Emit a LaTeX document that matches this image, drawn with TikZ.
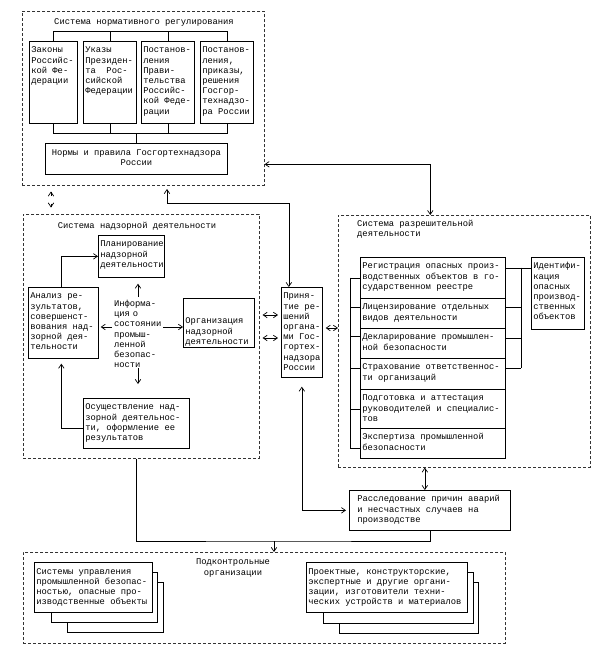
\documentclass[tikz,border=0pt]{standalone}
\usepackage{fontspec}
\setmainfont{Liberation Mono}
\usetikzlibrary{arrows.meta,calc}
\newcommand\bt[4][t]{\parbox[c][#3pt][#1]{\dimexpr#2pt-4pt\relax}{\raggedright\ifx t#1\rule{0pt}{11.5pt}\else\strut\fi#4\strut}}
\begin{document}
\begin{tikzpicture}[x=1pt,y=-1pt,
 every node/.style={font=\fontsize{8.8}{10.2}\selectfont, inner sep=0pt},
 bx/.style={draw, line width=0.7pt, anchor=north west, inner xsep=2pt, inner ysep=0pt, fill=white},
 frm/.style={draw=black!80, dash pattern=on 3pt off 2pt, line width=0.6pt, anchor=north west, inner sep=0pt},
 ln/.style={line width=0.7pt},
 ar/.style={ln, -{Straight Barb[length=4pt,width=5.5pt]}},
 dar/.style={ln, {Straight Barb[length=4pt,width=5.5pt]}-{Straight Barb[length=4pt,width=5.5pt]}},
]
\useasboundingbox (0,0) rectangle (603,654);

% ---------- top frame ----------
\node[frm, minimum width=242pt, minimum height=174pt] (tf) at (22,11) {};
\node (tft) at (144,22) {Система нормативного регулирования};
\node[bx] (z1) at (29,41) {\bt{48}{82}{Законы\\Российс-\\кой Фе-\\дерации}};
\node[bx] (z2) at (83,41) {\bt{53}{82}{Указы\\Президен-\\та~~Рос-\\сийской\\Федерации}};
\node[bx] (z3) at (141,41) {\bt{53}{82}{Постанов-\\ления\\Прави-\\тельства\\Российс-\\кой Феде-\\рации}};
\node[bx] (z4) at (200,41) {\bt{53}{82}{Постанов-\\ления,\\приказы,\\решения\\Госгор-\\технадзо-\\ра России}};
\node[bx] (nrm) at (45,143) {\bt[c]{182}{31}{\centering Нормы и правила Госгортехнадзора\\России}};

\coordinate (bus1) at (0,31);
\coordinate (bus2) at (0,133);
\draw[ln] (z1.north) -- (z1.north |- bus1) -- (z4.north |- bus1) -- (z4.north);
\draw[ln] (z2.north) -- (z2.north |- bus1);
\draw[ln] (z3.north) -- (z3.north |- bus1);
\draw[ln] (z1.south) -- (z1.south |- bus2) -- (z4.south |- bus2) -- (z4.south);
\draw[ln] (z2.south) -- (z2.south |- bus2);
\draw[ln] (z3.south) -- (z3.south |- bus2);
\draw[ln] (nrm.north |- bus2) -- (nrm.north);

% ---------- left frame ----------
\node[frm, minimum width=236pt, minimum height=244pt] (lf) at (23,214) {};
\node (lft) at (137,226) {Система надзорной деятельности};
\node[bx] (plan) at (98,235) {\bt{66}{42}{Планирование\\надзорной\\деятельности}};
\node[bx] (anal) at (28,287) {\bt{70}{71}{Анализ ре-\\зультатов,\\совершенст-\\вования над-\\зорной дея-\\тельности}};
\node[anchor=north, text width=48pt, align=left] (info) at (138,300) {Информа-\\ция о\\состоянии\\промыш-\\ленной\\безопас-\\ности};
\node[bx] (org) at (183,298) {\bt[b]{71}{46}{Организация\\надзорной\\деятельности}};
\node[bx] (osu) at (83,398) {\bt{106}{50}{Осуществление над-\\зорной деятельнос-\\ти, оформление ее\\результатов}};

% ---------- Prinyatie ----------
\node[bx] (prin) at (281,287) {\bt{41}{90}{Приня-\\тие~ре-\\шений\\органа-\\ми~Гос-\\гортех-\\надзора\\России}};

% ---------- right frame ----------
\node[frm, minimum width=252pt, minimum height=252pt] (rf) at (338,215) {};
\node[anchor=north west, align=left] (rft) at (357,220) {Система разрешительной\\деятельности};
\node[bx] (r1) at (360,257) {\bt{145}{41}{Регистрация опасных произ-\\водственных объектов в го-\\сударственном реестре}};
\node[bx] (r2) at (360,298) {\bt{145}{30}{Лицензирование отдельных\\видов деятельности}};
\node[bx] (r3) at (360,328) {\bt{145}{30}{Декларирование промышлен-\\ной безопасности}};
\node[bx] (r4) at (360,358) {\bt{145}{31}{Страхование ответственнос-\\ти организаций}};
\node[bx] (r5) at (360,389) {\bt{145}{39}{Подготовка и аттестация\\руководителей и специалис-\\тов}};
\node[bx] (r6) at (360,428) {\bt{145}{30}{Экспертиза промышленной\\безопасности}};
\node[bx] (iden) at (531,257) {\bt{53}{72}{Идентифи-\\кация\\опасных\\производ-\\ственных\\объектов}};

% ---------- investigation ----------
\node[bx] (ras) at (349,490) {\bt{161}{40}{\leftskip=6pt Расследование причин аварий\\и несчастных случаев на\\производстве}};

% ---------- bottom frame ----------
\node[frm, minimum width=482pt, minimum height=91pt] (bf) at (23,552) {};
\node[align=center] (bft) at (233,568) {Подконтрольные\\организации};
\node[bx, minimum width=96pt, minimum height=50pt] (ls3) at (67,582) {};
\node[bx, minimum width=106pt, minimum height=50pt] (ls2) at (51,572) {};
\node[bx] (ls1) at (34,562) {\bt[c]{118}{50}{Системы управления\\промышленной безопас-\\ностью, опасные про-\\изводственные объекты}};
\node[bx, minimum width=139pt, minimum height=51pt] (rs3) at (339,582) {};
\node[bx, minimum width=150pt, minimum height=51pt] (rs2) at (323,572) {};
\node[bx] (rs1) at (306,562) {\bt[c]{161}{50}{Проектные, конструкторские,\\экспертные и другие органи-\\зации, изготовители техни-\\ческих устройств и материалов}};

% ---------- connectors ----------
\coordinate (av0) at (51,191.5);
\coordinate (av1) at (51,195.5);
\coordinate (av2) at (51,203.5);
\coordinate (av3) at (51,207.5);
\draw[ar] (av1) -- (av0);
\draw[ar] (av2) -- (av3);

\coordinate (ta) at (167,189);
\draw[dar] (ta) |- ([xshift=-13pt,yshift=84pt]prin.north) -- ([xshift=-13pt]prin.north);
\draw[dar] ([yshift=-66pt]tf.east) -| ([xshift=-34pt]rf.north);

\draw[ar, shorten <=3pt, shorten >=6pt] (info.north) -- (info.north |- plan.south);
\draw[ar, shorten >=14pt] (info.south) -- (info.south |- osu.north);
\coordinate (irow) at (0,327);
\draw[ar, shorten <=2pt, shorten >=2pt] (info.west |- irow) -- (anal.east |- irow);
\draw[ar, shorten <=1pt] (info.east |- irow) -- (org.west |- irow);
\draw[ar] ([xshift=-2pt]anal.north) |- (plan.west);
\draw[ar, shorten >=5pt] ([yshift=-5pt]osu.west) -| ([xshift=-2pt]anal.south);

\coordinate (lp1) at (0,315);
\coordinate (lp2) at (0,338);
\coordinate (rp) at (0,328);
\draw[dar, shorten <=3pt, shorten >=3pt] (lf.east |- lp1) -- (prin.west |- lp1);
\draw[dar, shorten <=3pt, shorten >=3pt] (lf.east |- lp2) -- (prin.west |- lp2);
\draw[dar, shorten <=3pt] (prin.east |- rp) -- (rf.west |- rp);

\draw[dar, shorten <=9pt, shorten >=3pt] (prin.south) |- (ras.west);
\draw[dar] ([xshift=-5pt]ras.north) -- ([xshift=-5pt]ras.north |- rf.south);

\coordinate (jn) at (274,541);
\draw[ln] ([xshift=-5pt]lf.south) |- (jn) -| (ras.south);
\draw[ar] (jn) -- (jn |- bf.north);

% brackets
\coordinate (lbt) at (350,277.5);
\coordinate (lbb) at (350,448);
\draw[ln] (lbt) -- (lbb);
\draw[ln] (r1.west) -- (r1.west -| lbt);
\draw[ln] ([yshift=6pt]r2.west) -- ([yshift=6pt]r2.west -| lbt);
\draw[ln] ([yshift=7pt]r3.west) -- ([yshift=7pt]r3.west -| lbt);
\draw[ln] ([yshift=6pt]r4.west) -- ([yshift=6pt]r4.west -| lbt);
\draw[ln] (r5.west) -- (r5.west -| lbt);
\draw[ln] ([yshift=-5pt]r6.west) -- ([yshift=-5pt]r6.west -| lbt);

\coordinate (rbt) at (521,267.5);
\coordinate (rbb) at (521,368);
\draw[ln] ([yshift=10pt]r1.east) -- ([yshift=10pt]r1.east -| iden.west);
\draw[ln] (rbt) -- (rbb);
\draw[ln] ([yshift=6pt]r2.east) -- ([yshift=6pt]r2.east -| rbt);
\draw[ln] ([yshift=5pt]r3.east) -- ([yshift=5pt]r3.east -| rbt);
\draw[ln] ([yshift=5.5pt]r4.east) -- ([yshift=5.5pt]r4.east -| rbt);
\end{tikzpicture}
\end{document}
